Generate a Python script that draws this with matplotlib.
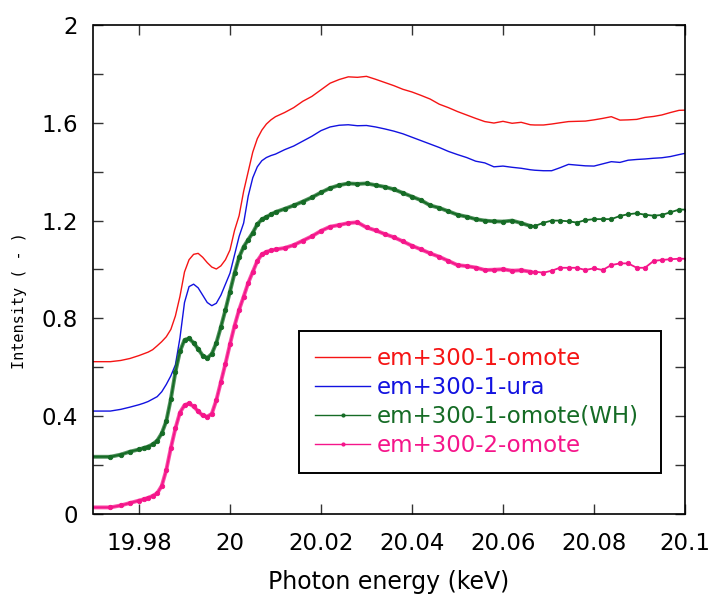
import matplotlib
matplotlib.use("Agg")
import matplotlib.pyplot as plt
from matplotlib.lines import Line2D
from matplotlib.ticker import MultipleLocator

# photon energy grid (keV): fine steps over the edge, coarser tail
energy = [19.968, 19.9737, 19.976, 19.978,
          19.980, 19.981, 19.982, 19.983, 19.984, 19.985, 19.986, 19.987, 19.988, 19.989,
          19.990, 19.991, 19.992, 19.993, 19.994, 19.995, 19.996, 19.997, 19.998, 19.999,
          20.000, 20.001, 20.002, 20.003, 20.004, 20.005, 20.006, 20.007, 20.008, 20.009,
          20.010, 20.012, 20.014, 20.016, 20.018, 20.020, 20.022, 20.024, 20.026, 20.028,
          20.030, 20.032, 20.034, 20.036, 20.038, 20.040, 20.042, 20.044, 20.046, 20.048,
          20.050, 20.052, 20.054, 20.056, 20.058, 20.060, 20.062, 20.064, 20.066,
          20.0670, 20.0689, 20.0707, 20.0725, 20.0744, 20.0762, 20.0781, 20.0800, 20.0819, 20.0838,
          20.0857, 20.0875, 20.0894, 20.0912, 20.0931, 20.0949, 20.0968, 20.0987, 20.1005]
n_fine = 63  # points before the coarse tail

omote1 = [0.623, 0.623, 0.628, 0.636,
          0.648, 0.655, 0.662, 0.672, 0.688, 0.705, 0.725, 0.755, 0.81, 0.89,
          0.99, 1.04, 1.062, 1.066, 1.05, 1.028, 1.01, 1.002, 1.015, 1.04,
          1.08, 1.16, 1.22, 1.32, 1.40, 1.48, 1.535, 1.57, 1.595, 1.612,
          1.625, 1.642, 1.662, 1.688, 1.708, 1.735, 1.762, 1.777, 1.788, 1.786,
          1.79, 1.778, 1.765, 1.752, 1.737, 1.726, 1.712, 1.697, 1.676, 1.662,
          1.646, 1.632, 1.618, 1.605, 1.599, 1.606, 1.598, 1.602, 1.592,
          1.591, 1.591, 1.595, 1.600, 1.605, 1.606, 1.607, 1.612, 1.618, 1.625,
          1.611, 1.612, 1.614, 1.622, 1.626, 1.632, 1.642, 1.651, 1.652]

ura1 = [0.421, 0.421, 0.428, 0.437,
        0.447, 0.453, 0.46, 0.47, 0.48, 0.50, 0.53, 0.565, 0.61, 0.72,
        0.865, 0.93, 0.94, 0.925, 0.895, 0.865, 0.852, 0.862, 0.895, 0.94,
        0.985, 1.06, 1.135, 1.19, 1.30, 1.375, 1.42, 1.445, 1.458, 1.466,
        1.472, 1.49, 1.505, 1.525, 1.545, 1.568, 1.583, 1.59, 1.592, 1.588,
        1.589, 1.583, 1.575, 1.566, 1.555, 1.541, 1.527, 1.513, 1.499, 1.483,
        1.47, 1.458, 1.443, 1.436, 1.42, 1.423, 1.418, 1.414, 1.408,
        1.406, 1.404, 1.404, 1.416, 1.430, 1.427, 1.424, 1.423, 1.432, 1.441,
        1.438, 1.447, 1.450, 1.452, 1.455, 1.457, 1.462, 1.470, 1.477]

omote1_wh = [0.234, 0.234, 0.243, 0.255,
             0.264, 0.270, 0.276, 0.285, 0.30, 0.33, 0.38, 0.47, 0.58, 0.665,
             0.712, 0.718, 0.70, 0.675, 0.648, 0.638, 0.655, 0.70, 0.765, 0.835,
             0.91, 0.985, 1.05, 1.093, 1.122, 1.15, 1.185, 1.205, 1.215, 1.225,
             1.235, 1.248, 1.262, 1.278, 1.295, 1.315, 1.333, 1.345, 1.352, 1.35,
             1.352, 1.345, 1.338, 1.328, 1.313, 1.298, 1.283, 1.262, 1.252, 1.238,
             1.224, 1.216, 1.206, 1.200, 1.197, 1.196, 1.2, 1.19, 1.178,
             1.178, 1.191, 1.200, 1.200, 1.197, 1.192, 1.202, 1.206, 1.206, 1.206,
             1.219, 1.226, 1.230, 1.224, 1.220, 1.223, 1.234, 1.245, 1.245]

omote2 = [0.027, 0.027, 0.035, 0.045,
          0.055, 0.060, 0.066, 0.074, 0.085, 0.115, 0.18, 0.27, 0.35, 0.415,
          0.445, 0.452, 0.44, 0.42, 0.403, 0.398, 0.41, 0.466, 0.54, 0.615,
          0.695, 0.77, 0.835, 0.889, 0.945, 0.99, 1.035, 1.062, 1.072, 1.078,
          1.082, 1.088, 1.100, 1.118, 1.136, 1.158, 1.175, 1.182, 1.19, 1.193,
          1.172, 1.16, 1.145, 1.132, 1.115, 1.097, 1.082, 1.066, 1.052, 1.035,
          1.018, 1.014, 1.008, 0.998, 0.999, 1.001, 0.995, 0.997, 0.991,
          0.991, 0.987, 0.995, 1.007, 1.007, 1.007, 0.998, 1.005, 0.998, 1.018,
          1.025, 1.025, 1.007, 1.007, 1.035, 1.039, 1.042, 1.044, 1.044]

labels = ["em+300-1-omote", "em+300-1-ura", "em+300-1-omote(WH)", "em+300-2-omote"]
colors = ["#f51414", "#1212e0", "#156b25", "#f5158a"]

plt.rcParams["font.family"] = "DejaVu Sans"

fig = plt.figure(figsize=(7.09, 5.97), dpi=100)
ax = fig.add_axes([93.5 / 709, 1 - 514 / 597, (685 - 93.5) / 709, (514 - 25) / 597])

ax.plot(energy, omote1, color=colors[0], lw=1.0)
ax.plot(energy, ura1, color=colors[1], lw=1.0)

for ys, c in [(omote1_wh, colors[2]), (omote2, colors[3])]:
    ax.plot(energy[:n_fine], ys[:n_fine], color=c, lw=2.8, alpha=0.75)
    ax.plot(energy, ys, color=c, lw=1.3, marker="o", ms=3.2, mew=0.6)

ax.set_xlim(19.97, 20.1)
ax.set_ylim(0, 2)
ax.yaxis.set_minor_locator(MultipleLocator(0.2))
ax.set_xticks([19.98, 20.0, 20.02, 20.04, 20.06, 20.08, 20.1])
ax.set_xticklabels(["19.98", "20", "20.02", "20.04", "20.06", "20.08", "20.1"])
ax.set_yticks([0, 0.4, 0.8, 1.2, 1.6, 2.0])
ax.set_yticklabels(["0", "0.4", "0.8", "1.2", "1.6", "2"])
ax.tick_params(which="both", direction="in", top=True, right=True,
               length=7, width=1.0, color="#333333")
ax.tick_params(axis="x", labelsize=16.5, pad=13)
ax.tick_params(axis="y", labelsize=16.5, pad=11)
for s in ax.spines.values():
    s.set_linewidth(1.2)

fig.text(389 / 709, 8 / 597, "Photon energy (keV)", ha="center", va="baseline",
         fontsize=17)
fig.text(19.5 / 709, 1 - 301 / 597, "Intensity ( - )", rotation=90, ha="center",
         va="center", fontsize=11, family="DejaVu Sans Mono")

handles = [Line2D([], [], color=colors[0], lw=1.0),
           Line2D([], [], color=colors[1], lw=1.0),
           Line2D([], [], color=colors[2], lw=1.0, marker="o", ms=2),
           Line2D([], [], color=colors[3], lw=1.0, marker="o", ms=2)]
leg = ax.legend(handles, labels, loc="upper left", mode="expand",
                bbox_to_anchor=(299 / 709, 1 - 467 / 597, 362 / 709, 136 / 597),
                bbox_transform=fig.transFigure, borderaxespad=0,
                fontsize=16.5, frameon=True, fancybox=False, framealpha=1,
                edgecolor="black", handlelength=2.4, handletextpad=0.3,
                labelspacing=0.26, borderpad=0.7, numpoints=1)
leg.get_frame().set_linewidth(1.4)
for t, c in zip(leg.get_texts(), colors):
    t.set_color(c)

fig.savefig("out.png", dpi=100)
